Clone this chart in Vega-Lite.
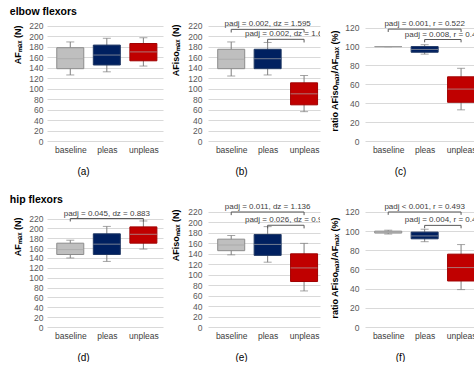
{
  "$schema": "https://vega.github.io/schema/vega-lite/v6.json",
  "padding": {"left": 9, "top": 6, "right": 0, "bottom": 0},
  "config": {
    "font": "Liberation Sans",
    "view": {"stroke": null},
    "axis": {"labelFontSize": 8.5, "labelColor": "#595959", "domain": false, "ticks": false, "titleFontSize": 9, "titleFontWeight": "bold", "titleColor": "#000000", "gridColor": "#d9d9d9", "gridWidth": 1, "labelOverlap": false},
    "axisX": {"grid": false, "labelPadding": 4, "titleFontWeight": "normal", "titleFontSize": 10, "titleY": 30, "titleBaseline": "middle", "titleAlign": "center", "titleColor": "#000000", "labelColor": "#404040"},
    "axisY": {"grid": true, "titleAnchor": "end", "labelOverlap": false}
  },
  "datasets": {
    "boxes": [
      {"panel": "a", "cond": "baseline", "pos": 1, "min": 126, "q1": 138, "median": 157, "q3": 178, "max": 189},
      {"panel": "a", "cond": "pleas", "pos": 2, "min": 132, "q1": 145, "median": 164, "q3": 183, "max": 196},
      {"panel": "a", "cond": "unpleas", "pos": 3, "min": 143, "q1": 153, "median": 170, "q3": 186, "max": 197},
      {"panel": "b", "cond": "baseline", "pos": 1, "min": 124, "q1": 138, "median": 156, "q3": 175, "max": 189},
      {"panel": "b", "cond": "pleas", "pos": 2, "min": 126, "q1": 138, "median": 157, "q3": 175, "max": 188},
      {"panel": "b", "cond": "unpleas", "pos": 3, "min": 56, "q1": 69, "median": 90, "q3": 111, "max": 125},
      {"panel": "c", "cond": "baseline", "pos": 1, "min": 100, "q1": 100, "median": 100, "q3": 100, "max": 100},
      {"panel": "c", "cond": "pleas", "pos": 2, "min": 92, "q1": 94, "median": 97, "q3": 100, "max": 102},
      {"panel": "c", "cond": "unpleas", "pos": 3, "min": 33, "q1": 41, "median": 55, "q3": 68, "max": 77},
      {"panel": "d", "cond": "baseline", "pos": 1, "min": 140, "q1": 147, "median": 157, "q3": 170, "max": 176},
      {"panel": "d", "cond": "pleas", "pos": 2, "min": 133, "q1": 147, "median": 168, "q3": 189, "max": 204},
      {"panel": "d", "cond": "unpleas", "pos": 3, "min": 158, "q1": 170, "median": 188, "q3": 203, "max": 215},
      {"panel": "e", "cond": "baseline", "pos": 1, "min": 138, "q1": 146, "median": 157, "q3": 168, "max": 175},
      {"panel": "e", "cond": "pleas", "pos": 2, "min": 124, "q1": 137, "median": 158, "q3": 177, "max": 192},
      {"panel": "e", "cond": "unpleas", "pos": 3, "min": 69, "q1": 87, "median": 113, "q3": 140, "max": 160},
      {"panel": "f", "cond": "baseline", "pos": 1, "min": 97, "q1": 98, "median": 99, "q3": 100, "max": 101},
      {"panel": "f", "cond": "pleas", "pos": 2, "min": 89, "q1": 92, "median": 95, "q3": 99, "max": 102},
      {"panel": "f", "cond": "unpleas", "pos": 3, "min": 39, "q1": 48, "median": 62, "q3": 76, "max": 86}
    ],
    "brackets": [
      {"panel": "b", "x1": 1, "x2": 3, "xm": 2, "h": 213, "hlow": 207, "label": "padj = 0.002, dz = 1.595"},
      {"panel": "b", "x1": 2, "x2": 3, "xm": 2.5, "h": 194, "hlow": 188, "label": "padj = 0.002, dz = 1.60"},
      {"panel": "c", "x1": 1, "x2": 3, "xm": 2, "h": 118.5, "hlow": 115.5, "label": "padj = 0.001, r = 0.522"},
      {"panel": "c", "x1": 2, "x2": 3, "xm": 2.5, "h": 107.5, "hlow": 104.5, "label": "padj = 0.008, r = 0.42"},
      {"panel": "d", "x1": 1, "x2": 3, "xm": 2, "h": 220, "hlow": 214, "label": "padj = 0.045, dz = 0.883"},
      {"panel": "e", "x1": 1, "x2": 3, "xm": 2, "h": 220, "hlow": 214, "label": "padj = 0.011, dz = 1.136"},
      {"panel": "e", "x1": 2, "x2": 3, "xm": 2.5, "h": 194.6, "hlow": 188.6, "label": "padj = 0.026, dz = 0.98"},
      {"panel": "f", "x1": 1, "x2": 3, "xm": 2, "h": 120, "hlow": 117, "label": "padj < 0.001, r = 0.493"},
      {"panel": "f", "x1": 2, "x2": 3, "xm": 2.5, "h": 106, "hlow": 103, "label": "padj = 0.004, r = 0.41"}
    ]
  },
  "columns": 3,
  "spacing": {"row": 61, "column": 45},
  "bounds": "flush",
  "concat": [
    {
      "width": 116, "height": 125,
      "title": {"text": "elbow flexors", "anchor": "start", "frame": "bounds", "fontSize": 10.5, "fontWeight": "bold", "offset": -1, "dx": -4, "color": "#000000"},
      "layer": [
        {
          "data": {"name": "boxes"},
          "transform": [{"filter": "datum.panel == 'a'"}],
          "layer": [
            {"mark": {"type": "rule", "color": "#7f7f7f", "clip": true},
             "encoding": {
               "x": {"field": "pos", "type": "quantitative", "scale": {"domain": [0.5, 3.4], "nice": false, "zero": false}, "axis": {"values": [1, 2, 3], "tickCount": 12, "labelExpr": "datum.value == 1 ? 'baseline' : datum.value == 2 ? 'pleas' : 'unpleas'", "title": "(a)", "titleX": 36}},
               "y": {"field": "min", "type": "quantitative", "scale": {"domain": [0, 238.5], "nice": false}, "axis": {"values": [0, 20, 40, 60, 80, 100, 120, 140, 160, 180, 200, 220], "tickCount": 12, "title": "AFₘₐₓ (N)", "titleY": 9, "labelPadding": 4, "titlePadding": 6}},
               "y2": {"field": "max"}}},
            {"mark": {"type": "tick", "orient": "horizontal", "size": 8, "thickness": 1, "color": "#7f7f7f", "clip": true},
             "encoding": {"x": {"field": "pos", "type": "quantitative"}, "y": {"field": "min", "type": "quantitative"}}},
            {"mark": {"type": "tick", "orient": "horizontal", "size": 8, "thickness": 1, "color": "#7f7f7f", "clip": true},
             "encoding": {"x": {"field": "pos", "type": "quantitative"}, "y": {"field": "max", "type": "quantitative"}}},
            {"mark": {"type": "bar", "size": 27, "strokeWidth": 1, "clip": true},
             "encoding": {"x": {"field": "pos", "type": "quantitative"}, "y": {"field": "q1", "type": "quantitative"}, "y2": {"field": "q3"},
               "fill": {"field": "cond", "type": "nominal", "scale": {"domain": ["baseline", "pleas", "unpleas"], "range": ["#bfbfbf", "#002060", "#c00000"]}, "legend": null},
               "stroke": {"field": "cond", "type": "nominal", "scale": {"domain": ["baseline", "pleas", "unpleas"], "range": ["#8c8c8c", "#203864", "#a00000"]}, "legend": null}}},
            {"mark": {"type": "tick", "orient": "horizontal", "size": 27, "thickness": 1, "color": "#a6a6a6", "clip": true},
             "encoding": {"x": {"field": "pos", "type": "quantitative"}, "y": {"field": "median", "type": "quantitative"}}}
          ]
        }
      ]
    },
    {
      "width": 112, "height": 125,
      "layer": [
        {
          "data": {"name": "boxes"},
          "transform": [{"filter": "datum.panel == 'b'"}],
          "layer": [
            {"mark": {"type": "rule", "color": "#7f7f7f", "clip": true},
             "encoding": {
               "x": {"field": "pos", "type": "quantitative", "scale": {"domain": [0.5, 3.3], "nice": false, "zero": false}, "axis": {"values": [1, 2, 3], "tickCount": 12, "labelExpr": "datum.value == 1 ? 'baseline' : datum.value == 2 ? 'pleas' : 'unpleas'", "title": "(b)", "titleX": 33}},
               "y": {"field": "min", "type": "quantitative", "scale": {"domain": [0, 238.5], "nice": false}, "axis": {"values": [0, 20, 40, 60, 80, 100, 120, 140, 160, 180, 200, 220], "tickCount": 12, "title": "AFisoₘₐₓ (N)", "titleY": 8, "labelPadding": 6, "titlePadding": 7}},
               "y2": {"field": "max"}}},
            {"mark": {"type": "tick", "orient": "horizontal", "size": 8, "thickness": 1, "color": "#7f7f7f", "clip": true},
             "encoding": {"x": {"field": "pos", "type": "quantitative"}, "y": {"field": "min", "type": "quantitative"}}},
            {"mark": {"type": "tick", "orient": "horizontal", "size": 8, "thickness": 1, "color": "#7f7f7f", "clip": true},
             "encoding": {"x": {"field": "pos", "type": "quantitative"}, "y": {"field": "max", "type": "quantitative"}}},
            {"mark": {"type": "bar", "size": 27, "strokeWidth": 1, "clip": true},
             "encoding": {"x": {"field": "pos", "type": "quantitative"}, "y": {"field": "q1", "type": "quantitative"}, "y2": {"field": "q3"},
               "fill": {"field": "cond", "type": "nominal", "scale": {"domain": ["baseline", "pleas", "unpleas"], "range": ["#bfbfbf", "#002060", "#c00000"]}, "legend": null},
               "stroke": {"field": "cond", "type": "nominal", "scale": {"domain": ["baseline", "pleas", "unpleas"], "range": ["#8c8c8c", "#203864", "#a00000"]}, "legend": null}}},
            {"mark": {"type": "tick", "orient": "horizontal", "size": 27, "thickness": 1, "color": "#a6a6a6", "clip": true},
             "encoding": {"x": {"field": "pos", "type": "quantitative"}, "y": {"field": "median", "type": "quantitative"}}}
          ]
        },
        {
          "data": {"name": "brackets"},
          "transform": [{"filter": "datum.panel == 'b'"}],
          "layer": [
            {"mark": {"type": "rule", "color": "#595959", "clip": true}, "encoding": {"x": {"field": "x1", "type": "quantitative"}, "x2": {"field": "x2"}, "y": {"field": "h", "type": "quantitative"}}},
            {"mark": {"type": "rule", "color": "#595959", "clip": true}, "encoding": {"x": {"field": "x1", "type": "quantitative"}, "y": {"field": "h", "type": "quantitative"}, "y2": {"field": "hlow"}}},
            {"mark": {"type": "rule", "color": "#595959", "clip": true}, "encoding": {"x": {"field": "x2", "type": "quantitative"}, "y": {"field": "h", "type": "quantitative"}, "y2": {"field": "hlow"}}},
            {"mark": {"type": "text", "fontSize": 8, "color": "#404040", "baseline": "bottom", "dy": -1, "clip": true}, "encoding": {"x": {"field": "xm", "type": "quantitative"}, "y": {"field": "h", "type": "quantitative"}, "text": {"field": "label"}}}
          ]
        }
      ]
    },
    {
      "width": 112, "height": 125,
      "layer": [
        {
          "data": {"name": "boxes"},
          "transform": [{"filter": "datum.panel == 'c'"}],
          "layer": [
            {"mark": {"type": "rule", "color": "#7f7f7f", "clip": true},
             "encoding": {
               "x": {"field": "pos", "type": "quantitative", "scale": {"domain": [0.5, 3.3], "nice": false, "zero": false}, "axis": {"values": [1, 2, 3], "tickCount": 12, "labelExpr": "datum.value == 1 ? 'baseline' : datum.value == 2 ? 'pleas' : 'unpleas'", "title": "(c)", "titleX": 35}},
               "y": {"field": "min", "type": "quantitative", "scale": {"domain": [0, 132.4], "nice": false}, "axis": {"values": [0, 20, 40, 60, 80, 100, 120], "tickCount": 12, "title": "ratio AFisoₘₐₓ/AFₘₐₓ (%)", "titleY": 14, "labelPadding": 6, "titlePadding": 5}},
               "y2": {"field": "max"}}},
            {"mark": {"type": "tick", "orient": "horizontal", "size": 8, "thickness": 1, "color": "#7f7f7f", "clip": true},
             "encoding": {"x": {"field": "pos", "type": "quantitative"}, "y": {"field": "min", "type": "quantitative"}}},
            {"mark": {"type": "tick", "orient": "horizontal", "size": 8, "thickness": 1, "color": "#7f7f7f", "clip": true},
             "encoding": {"x": {"field": "pos", "type": "quantitative"}, "y": {"field": "max", "type": "quantitative"}}},
            {"mark": {"type": "bar", "size": 27, "strokeWidth": 1, "clip": true},
             "encoding": {"x": {"field": "pos", "type": "quantitative"}, "y": {"field": "q1", "type": "quantitative"}, "y2": {"field": "q3"},
               "fill": {"field": "cond", "type": "nominal", "scale": {"domain": ["baseline", "pleas", "unpleas"], "range": ["#bfbfbf", "#002060", "#c00000"]}, "legend": null},
               "stroke": {"field": "cond", "type": "nominal", "scale": {"domain": ["baseline", "pleas", "unpleas"], "range": ["#8c8c8c", "#203864", "#a00000"]}, "legend": null}}},
            {"mark": {"type": "tick", "orient": "horizontal", "size": 27, "thickness": 1, "color": "#a6a6a6", "clip": true},
             "encoding": {"x": {"field": "pos", "type": "quantitative"}, "y": {"field": "median", "type": "quantitative"}}}
          ]
        },
        {
          "data": {"name": "brackets"},
          "transform": [{"filter": "datum.panel == 'c'"}],
          "layer": [
            {"mark": {"type": "rule", "color": "#595959", "clip": true}, "encoding": {"x": {"field": "x1", "type": "quantitative"}, "x2": {"field": "x2"}, "y": {"field": "h", "type": "quantitative"}}},
            {"mark": {"type": "rule", "color": "#595959", "clip": true}, "encoding": {"x": {"field": "x1", "type": "quantitative"}, "y": {"field": "h", "type": "quantitative"}, "y2": {"field": "hlow"}}},
            {"mark": {"type": "rule", "color": "#595959", "clip": true}, "encoding": {"x": {"field": "x2", "type": "quantitative"}, "y": {"field": "h", "type": "quantitative"}, "y2": {"field": "hlow"}}},
            {"mark": {"type": "text", "fontSize": 8, "color": "#404040", "baseline": "bottom", "dy": -1, "clip": true}, "encoding": {"x": {"field": "xm", "type": "quantitative"}, "y": {"field": "h", "type": "quantitative"}, "text": {"field": "label"}}}
          ]
        }
      ]
    },
    {
      "width": 116, "height": 125,
      "title": {"text": "hip flexors", "anchor": "start", "frame": "bounds", "fontSize": 10.5, "fontWeight": "bold", "offset": -3, "dx": -4, "color": "#000000"},
      "layer": [
        {
          "data": {"name": "boxes"},
          "transform": [{"filter": "datum.panel == 'd'"}],
          "layer": [
            {"mark": {"type": "rule", "color": "#7f7f7f", "clip": true},
             "encoding": {
               "x": {"field": "pos", "type": "quantitative", "scale": {"domain": [0.5, 3.4], "nice": false, "zero": false}, "axis": {"values": [1, 2, 3], "tickCount": 12, "labelExpr": "datum.value == 1 ? 'baseline' : datum.value == 2 ? 'pleas' : 'unpleas'", "title": "(d)", "titleX": 36}},
               "y": {"field": "min", "type": "quantitative", "scale": {"domain": [0, 253.5], "nice": false}, "axis": {"values": [0, 20, 40, 60, 80, 100, 120, 140, 160, 180, 200, 220], "tickCount": 12, "title": "AFₘₐₓ (N)", "titleY": 15, "labelPadding": 4, "titlePadding": 6}},
               "y2": {"field": "max"}}},
            {"mark": {"type": "tick", "orient": "horizontal", "size": 8, "thickness": 1, "color": "#7f7f7f", "clip": true},
             "encoding": {"x": {"field": "pos", "type": "quantitative"}, "y": {"field": "min", "type": "quantitative"}}},
            {"mark": {"type": "tick", "orient": "horizontal", "size": 8, "thickness": 1, "color": "#7f7f7f", "clip": true},
             "encoding": {"x": {"field": "pos", "type": "quantitative"}, "y": {"field": "max", "type": "quantitative"}}},
            {"mark": {"type": "bar", "size": 27, "strokeWidth": 1, "clip": true},
             "encoding": {"x": {"field": "pos", "type": "quantitative"}, "y": {"field": "q1", "type": "quantitative"}, "y2": {"field": "q3"},
               "fill": {"field": "cond", "type": "nominal", "scale": {"domain": ["baseline", "pleas", "unpleas"], "range": ["#bfbfbf", "#002060", "#c00000"]}, "legend": null},
               "stroke": {"field": "cond", "type": "nominal", "scale": {"domain": ["baseline", "pleas", "unpleas"], "range": ["#8c8c8c", "#203864", "#a00000"]}, "legend": null}}},
            {"mark": {"type": "tick", "orient": "horizontal", "size": 27, "thickness": 1, "color": "#a6a6a6", "clip": true},
             "encoding": {"x": {"field": "pos", "type": "quantitative"}, "y": {"field": "median", "type": "quantitative"}}}
          ]
        },
        {
          "data": {"name": "brackets"},
          "transform": [{"filter": "datum.panel == 'd'"}],
          "layer": [
            {"mark": {"type": "rule", "color": "#595959", "clip": true}, "encoding": {"x": {"field": "x1", "type": "quantitative"}, "x2": {"field": "x2"}, "y": {"field": "h", "type": "quantitative"}}},
            {"mark": {"type": "rule", "color": "#595959", "clip": true}, "encoding": {"x": {"field": "x1", "type": "quantitative"}, "y": {"field": "h", "type": "quantitative"}, "y2": {"field": "hlow"}}},
            {"mark": {"type": "rule", "color": "#595959", "clip": true}, "encoding": {"x": {"field": "x2", "type": "quantitative"}, "y": {"field": "h", "type": "quantitative"}, "y2": {"field": "hlow"}}},
            {"mark": {"type": "text", "fontSize": 8, "color": "#404040", "baseline": "bottom", "dy": -1, "clip": true}, "encoding": {"x": {"field": "xm", "type": "quantitative"}, "y": {"field": "h", "type": "quantitative"}, "text": {"field": "label"}}}
          ]
        }
      ]
    },
    {
      "width": 112, "height": 125,
      "layer": [
        {
          "data": {"name": "boxes"},
          "transform": [{"filter": "datum.panel == 'e'"}],
          "layer": [
            {"mark": {"type": "rule", "color": "#7f7f7f", "clip": true},
             "encoding": {
               "x": {"field": "pos", "type": "quantitative", "scale": {"domain": [0.5, 3.3], "nice": false, "zero": false}, "axis": {"values": [1, 2, 3], "tickCount": 12, "labelExpr": "datum.value == 1 ? 'baseline' : datum.value == 2 ? 'pleas' : 'unpleas'", "title": "(e)", "titleX": 33}},
               "y": {"field": "min", "type": "quantitative", "scale": {"domain": [0, 239.1], "nice": false}, "axis": {"values": [0, 20, 40, 60, 80, 100, 120, 140, 160, 180, 200, 220], "tickCount": 12, "title": "AFisoₘₐₓ (N)", "titleY": 7, "labelPadding": 6, "titlePadding": 7}},
               "y2": {"field": "max"}}},
            {"mark": {"type": "tick", "orient": "horizontal", "size": 8, "thickness": 1, "color": "#7f7f7f", "clip": true},
             "encoding": {"x": {"field": "pos", "type": "quantitative"}, "y": {"field": "min", "type": "quantitative"}}},
            {"mark": {"type": "tick", "orient": "horizontal", "size": 8, "thickness": 1, "color": "#7f7f7f", "clip": true},
             "encoding": {"x": {"field": "pos", "type": "quantitative"}, "y": {"field": "max", "type": "quantitative"}}},
            {"mark": {"type": "bar", "size": 27, "strokeWidth": 1, "clip": true},
             "encoding": {"x": {"field": "pos", "type": "quantitative"}, "y": {"field": "q1", "type": "quantitative"}, "y2": {"field": "q3"},
               "fill": {"field": "cond", "type": "nominal", "scale": {"domain": ["baseline", "pleas", "unpleas"], "range": ["#bfbfbf", "#002060", "#c00000"]}, "legend": null},
               "stroke": {"field": "cond", "type": "nominal", "scale": {"domain": ["baseline", "pleas", "unpleas"], "range": ["#8c8c8c", "#203864", "#a00000"]}, "legend": null}}},
            {"mark": {"type": "tick", "orient": "horizontal", "size": 27, "thickness": 1, "color": "#a6a6a6", "clip": true},
             "encoding": {"x": {"field": "pos", "type": "quantitative"}, "y": {"field": "median", "type": "quantitative"}}}
          ]
        },
        {
          "data": {"name": "brackets"},
          "transform": [{"filter": "datum.panel == 'e'"}],
          "layer": [
            {"mark": {"type": "rule", "color": "#595959", "clip": true}, "encoding": {"x": {"field": "x1", "type": "quantitative"}, "x2": {"field": "x2"}, "y": {"field": "h", "type": "quantitative"}}},
            {"mark": {"type": "rule", "color": "#595959", "clip": true}, "encoding": {"x": {"field": "x1", "type": "quantitative"}, "y": {"field": "h", "type": "quantitative"}, "y2": {"field": "hlow"}}},
            {"mark": {"type": "rule", "color": "#595959", "clip": true}, "encoding": {"x": {"field": "x2", "type": "quantitative"}, "y": {"field": "h", "type": "quantitative"}, "y2": {"field": "hlow"}}},
            {"mark": {"type": "text", "fontSize": 8, "color": "#404040", "baseline": "bottom", "dy": -1, "clip": true}, "encoding": {"x": {"field": "xm", "type": "quantitative"}, "y": {"field": "h", "type": "quantitative"}, "text": {"field": "label"}}}
          ]
        }
      ]
    },
    {
      "width": 112, "height": 125,
      "layer": [
        {
          "data": {"name": "boxes"},
          "transform": [{"filter": "datum.panel == 'f'"}],
          "layer": [
            {"mark": {"type": "rule", "color": "#7f7f7f", "clip": true},
             "encoding": {
               "x": {"field": "pos", "type": "quantitative", "scale": {"domain": [0.5, 3.3], "nice": false, "zero": false}, "axis": {"values": [1, 2, 3], "tickCount": 12, "labelExpr": "datum.value == 1 ? 'baseline' : datum.value == 2 ? 'pleas' : 'unpleas'", "title": "(f)", "titleX": 35}},
               "y": {"field": "min", "type": "quantitative", "scale": {"domain": [0, 130.4], "nice": false}, "axis": {"values": [0, 20, 40, 60, 80, 100, 120], "tickCount": 12, "title": "ratio AFisoₘₐₓ/AFₘₐₓ (%)", "titleY": 15, "labelPadding": 6, "titlePadding": 5}},
               "y2": {"field": "max"}}},
            {"mark": {"type": "tick", "orient": "horizontal", "size": 8, "thickness": 1, "color": "#7f7f7f", "clip": true},
             "encoding": {"x": {"field": "pos", "type": "quantitative"}, "y": {"field": "min", "type": "quantitative"}}},
            {"mark": {"type": "tick", "orient": "horizontal", "size": 8, "thickness": 1, "color": "#7f7f7f", "clip": true},
             "encoding": {"x": {"field": "pos", "type": "quantitative"}, "y": {"field": "max", "type": "quantitative"}}},
            {"mark": {"type": "bar", "size": 27, "strokeWidth": 1, "clip": true},
             "encoding": {"x": {"field": "pos", "type": "quantitative"}, "y": {"field": "q1", "type": "quantitative"}, "y2": {"field": "q3"},
               "fill": {"field": "cond", "type": "nominal", "scale": {"domain": ["baseline", "pleas", "unpleas"], "range": ["#bfbfbf", "#002060", "#c00000"]}, "legend": null},
               "stroke": {"field": "cond", "type": "nominal", "scale": {"domain": ["baseline", "pleas", "unpleas"], "range": ["#8c8c8c", "#203864", "#a00000"]}, "legend": null}}},
            {"mark": {"type": "tick", "orient": "horizontal", "size": 27, "thickness": 1, "color": "#a6a6a6", "clip": true},
             "encoding": {"x": {"field": "pos", "type": "quantitative"}, "y": {"field": "median", "type": "quantitative"}}}
          ]
        },
        {
          "data": {"name": "brackets"},
          "transform": [{"filter": "datum.panel == 'f'"}],
          "layer": [
            {"mark": {"type": "rule", "color": "#595959", "clip": true}, "encoding": {"x": {"field": "x1", "type": "quantitative"}, "x2": {"field": "x2"}, "y": {"field": "h", "type": "quantitative"}}},
            {"mark": {"type": "rule", "color": "#595959", "clip": true}, "encoding": {"x": {"field": "x1", "type": "quantitative"}, "y": {"field": "h", "type": "quantitative"}, "y2": {"field": "hlow"}}},
            {"mark": {"type": "rule", "color": "#595959", "clip": true}, "encoding": {"x": {"field": "x2", "type": "quantitative"}, "y": {"field": "h", "type": "quantitative"}, "y2": {"field": "hlow"}}},
            {"mark": {"type": "text", "fontSize": 8, "color": "#404040", "baseline": "bottom", "dy": -1, "clip": true}, "encoding": {"x": {"field": "xm", "type": "quantitative"}, "y": {"field": "h", "type": "quantitative"}, "text": {"field": "label"}}}
          ]
        }
      ]
    }
  ]
}
